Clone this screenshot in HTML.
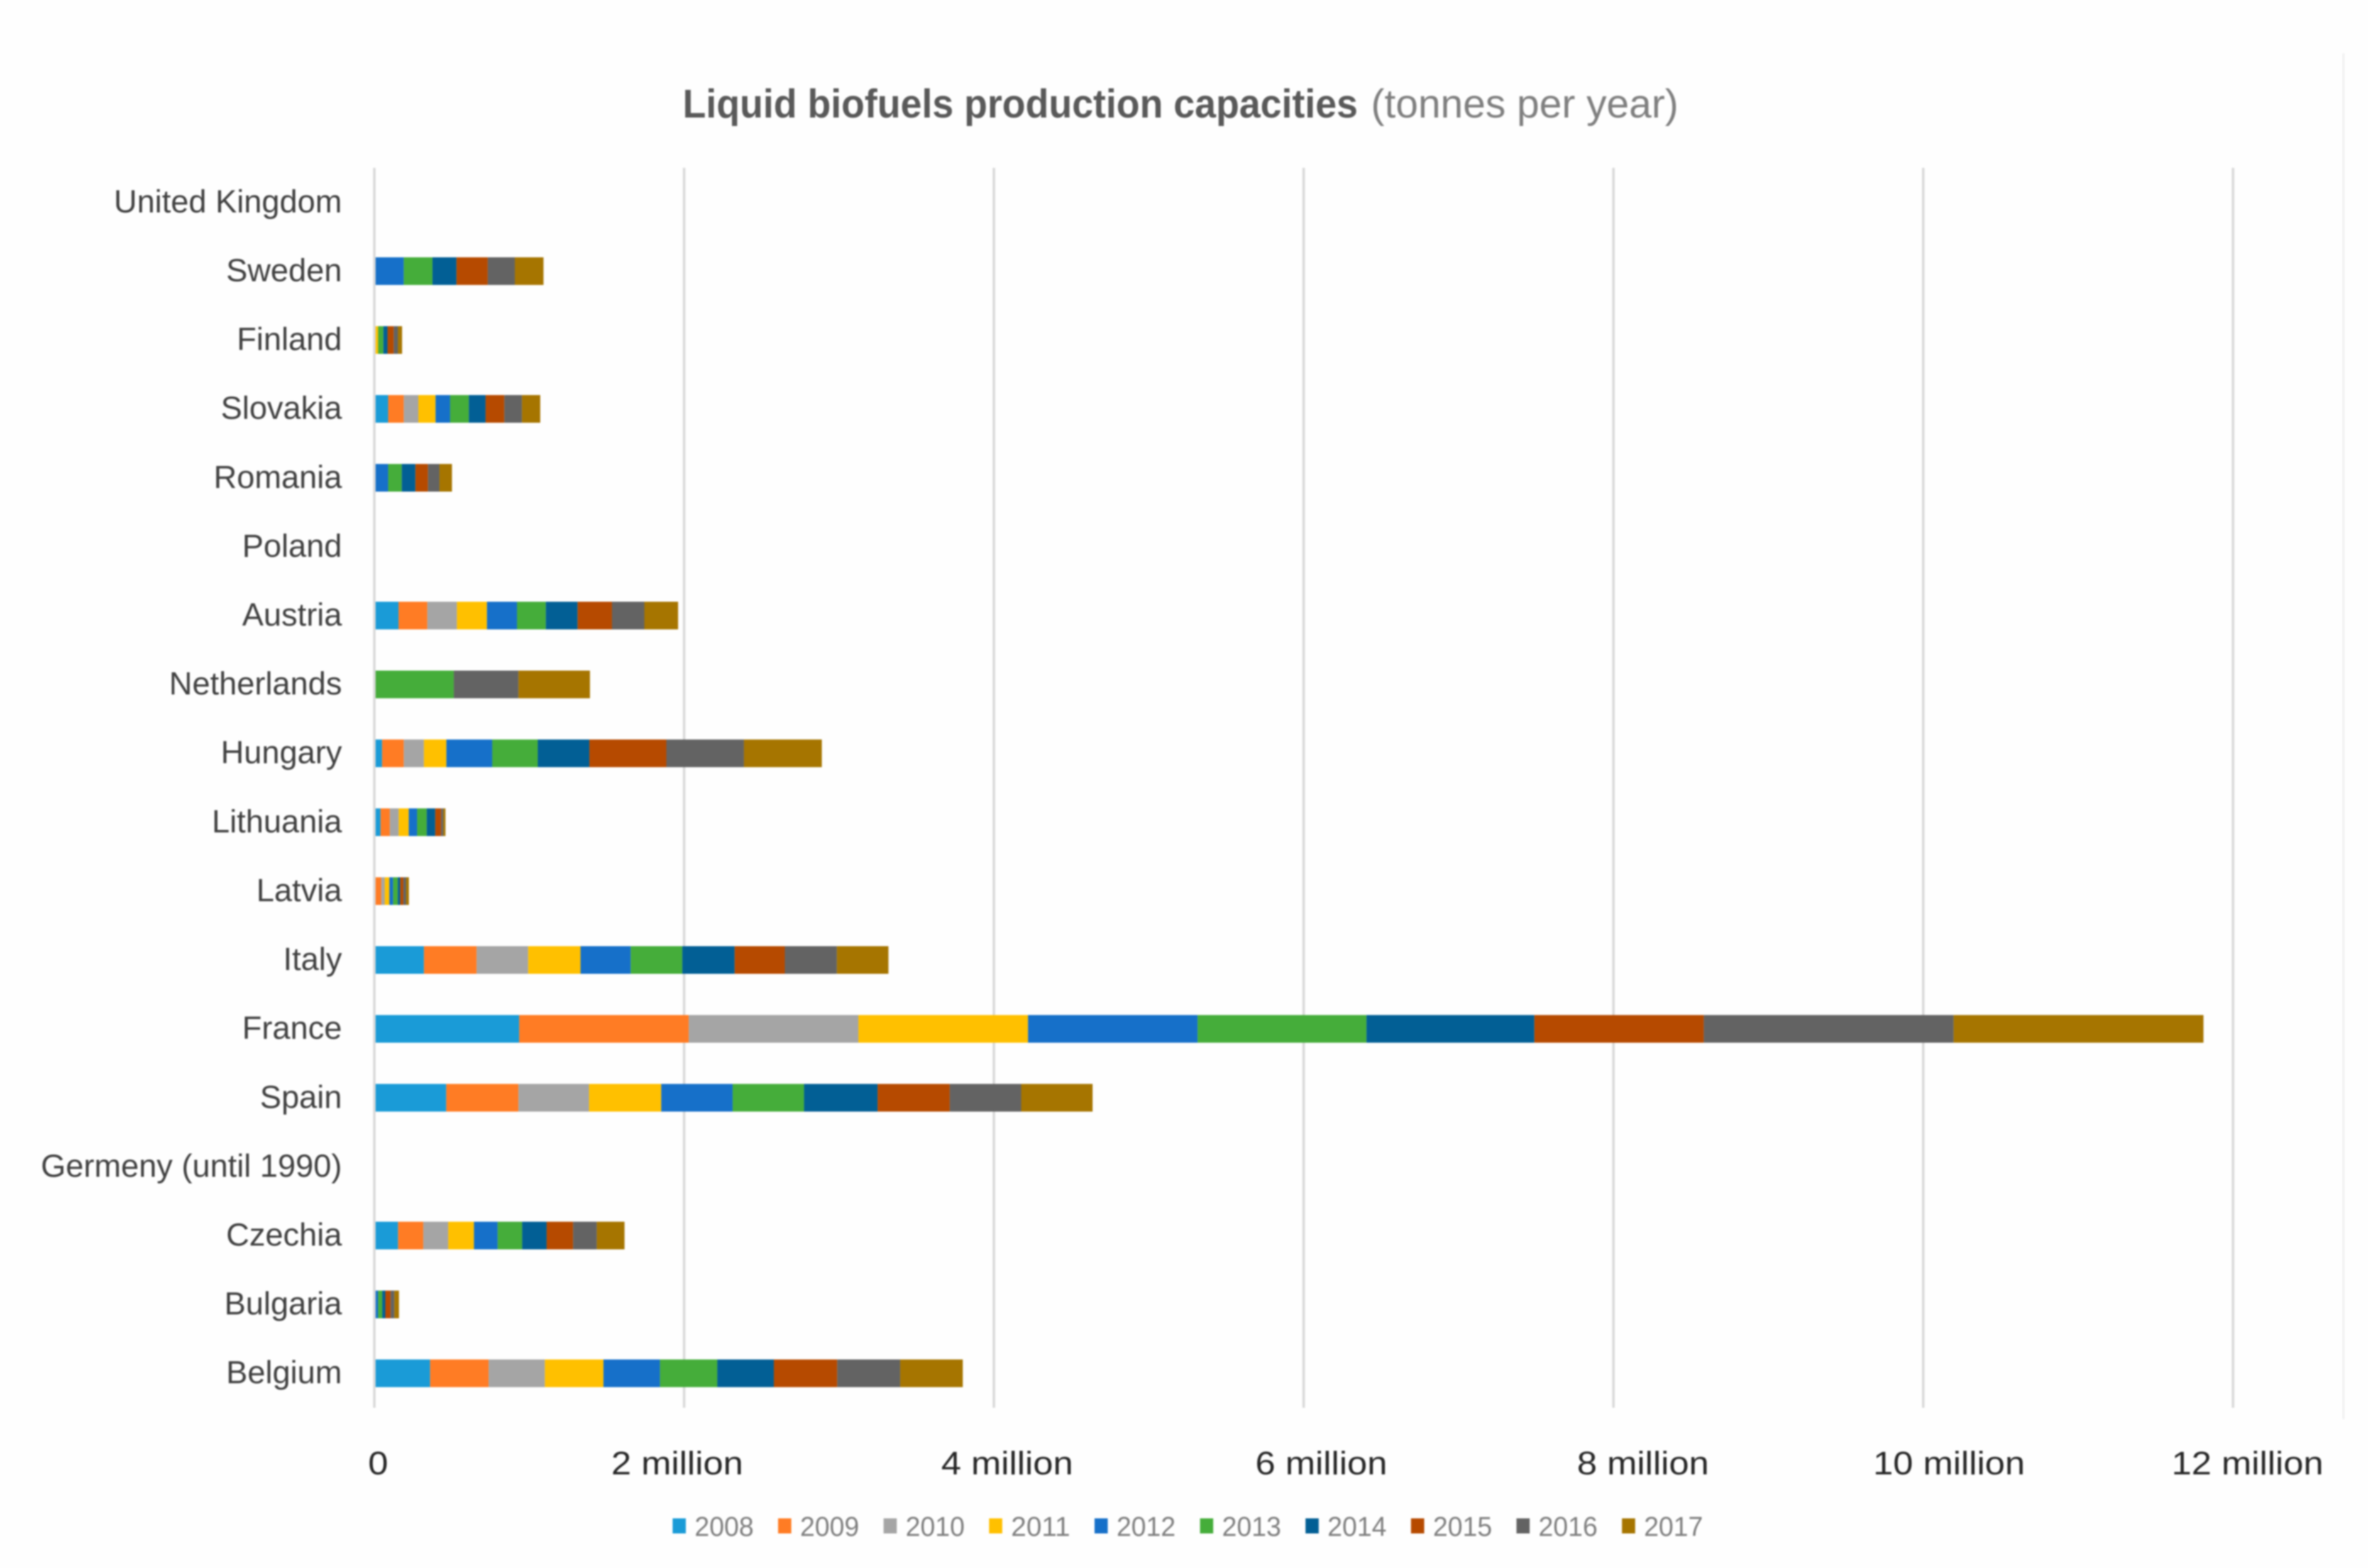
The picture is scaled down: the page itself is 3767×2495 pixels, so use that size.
<!DOCTYPE html>
<html lang="en">
<head>
<meta charset="utf-8">
<title>Liquid biofuels production capacities</title>
<style>
  html, body { margin: 0; padding: 0; background: #fff; }
  body { width: 3767px; height: 2495px; overflow: hidden; }
  #chart { display: block; filter: blur(1.3px); font-family: "Liberation Sans", sans-serif; }
</style>
</head>
<body>
<svg id="chart" xmlns="http://www.w3.org/2000/svg" width="3767" height="2495" viewBox="0 0 3767 2495">
  <rect x="0" y="0" width="3767" height="2495" fill="#fefefe"></rect>
  <line x1="3728" y1="85" x2="3728" y2="2258" stroke="#efefef" stroke-width="3"></line>
  <text x="1086" y="187" font-size="64" font-weight="700" fill="#595959" textLength="1074" lengthAdjust="spacingAndGlyphs">Liquid biofuels production capacities</text>
  <text x="2181" y="187" font-size="64" fill="#7f7f7f" textLength="489" lengthAdjust="spacingAndGlyphs">(tonnes per year)</text>
  <g id="grid"></g>
  <g id="bars"></g>
  <g id="ylabels"></g>
  <g id="xlabels"></g>
  <g id="legend"></g>
</svg>
<script>
// Chart data: capacities in million tonnes per year, categories top to bottom.
const categories = ["United Kingdom","Sweden","Finland","Slovakia","Romania","Poland","Austria","Netherlands","Hungary","Lithuania","Latvia","Italy","France","Spain","Germeny (until 1990)","Czechia","Bulgaria","Belgium"];
const years = ["2008","2009","2010","2011","2012","2013","2014","2015","2016","2017"];
const v2008 = [0,0,0,0.081,0,0,0.148,0,0.042,0.032,0,0.312,0.927,0.456,0,0.145,0,0.352];
const v2009 = [0,0,0,0.101,0,0,0.186,0,0.140,0.060,0.037,0.340,1.095,0.466,0,0.163,0,0.378];
const v2010 = [0,0,0,0.094,0,0,0.191,0,0.130,0.057,0.022,0.333,1.095,0.456,0,0.161,0,0.363];
const v2011 = [0,0,0.016,0.111,0,0,0.194,0,0.145,0.065,0.030,0.338,1.095,0.466,0,0.166,0,0.378];
const v2012 = [0,0.182,0,0.094,0.081,0,0.194,0,0.296,0.054,0.024,0.324,1.095,0.461,0,0.153,0.016,0.365];
const v2013 = [0,0.185,0.034,0.121,0.088,0,0.186,0.505,0.294,0.062,0.030,0.333,1.090,0.461,0,0.158,0.027,0.370];
const v2014 = [0,0.155,0.027,0.108,0.088,0,0.205,0,0.333,0.055,0.016,0.338,1.084,0.475,0,0.158,0.020,0.365];
const v2015 = [0,0.202,0.040,0.121,0.081,0,0.222,0,0.497,0.038,0.020,0.324,1.094,0.466,0,0.171,0.034,0.409];
const v2016 = [0,0.175,0.027,0.114,0.074,0,0.209,0.417,0.501,0.014,0.018,0.336,1.613,0.461,0,0.153,0.024,0.407];
const v2017 = [0,0.185,0.027,0.118,0.081,0,0.218,0.462,0.503,0.014,0.018,0.333,1.613,0.461,0,0.179,0.030,0.404];
const tickValues = [0,2,4,6,8,10,12];
const tickLabels = ["0","2 million","4 million","6 million","8 million","10 million","12 million"];

// Layout and style, kept apart from the data.
const seriesValues = [v2008,v2009,v2010,v2011,v2012,v2013,v2014,v2015,v2016,v2017];
const seriesColors = ["#1a9bd7","#ff7c24","#a5a5a5","#ffc000","#1670c9","#45ad3a","#025f95","#b64a00","#636363","#a67500"];
const tickLabelNudge = [6,-11,21,28,47,41,23];
const plot = { left: 595.5, barInset: 2, top: 267, bottom: 2240, pxPerMillion: 246.4, barHeight: 44 };

const SVGNS = "http://www.w3.org/2000/svg";
function xScale(v) { return plot.left + v * plot.pxPerMillion; }
function yCenter(i) {
  const band = (plot.bottom - plot.top) / categories.length;
  return plot.top + band * (i + 0.5);
}
function make(tag, parent, attrs) {
  const el = document.createElementNS(SVGNS, tag);
  for (const k in attrs) el.setAttribute(k, attrs[k]);
  parent.appendChild(el);
  return el;
}

const gridGroup = document.getElementById("grid");
tickValues.forEach(function (t) {
  const line = make("line", gridGroup, { x1: xScale(t), x2: xScale(t), y1: plot.top, y2: plot.bottom, stroke: "#d9d9d9", "stroke-width": 4 });
  
  
});

const barGroup = document.getElementById("bars");
categories.forEach(function (cat, i) {
  let sum = 0;
  seriesValues.forEach(function (series, s) {
    const v = series[i];
    if (v > 0) {
      const x0 = xScale(sum) + plot.barInset;
      const x1 = xScale(sum + v) + plot.barInset;
      const seg = make("rect", barGroup, { x: x0, y: yCenter(i) - plot.barHeight / 2, width: x1 - x0, height: plot.barHeight, fill: seriesColors[s] });
      
      
    }
    sum += v;
  });
});

const yGroup = document.getElementById("ylabels");
categories.forEach(function (cat, i) {
  const label = make("text", yGroup, { x: 544, y: yCenter(i) + 16, "text-anchor": "end", "font-size": 51, fill: "#404040" });
  label.textContent = cat;
  
  
});

const xGroup = document.getElementById("xlabels");
tickValues.forEach(function (t, i) {
  const cx = xScale(t) + tickLabelNudge[i];
  const label = make("text", xGroup, { transform: "translate(" + cx + ",2346) scale(1.1,1)", "text-anchor": "middle", "font-size": 52, fill: "#262626" });
  label.textContent = tickLabels[i];
  
  
});

const legendGroup = document.getElementById("legend");
years.forEach(function (year, i) {
  const lx = 1070 + i * 167.8;
  const swatch = make("rect", legendGroup, { x: lx, y: 2416, width: 21, height: 24, fill: seriesColors[i] });
  
  
  const label = make("text", legendGroup, { x: lx + 35, y: 2444, "font-size": 44, fill: "#7f7f7f", textLength: 94, lengthAdjust: "spacingAndGlyphs" });
  label.textContent = year;
  
  
});
</script>
</body>
</html>
